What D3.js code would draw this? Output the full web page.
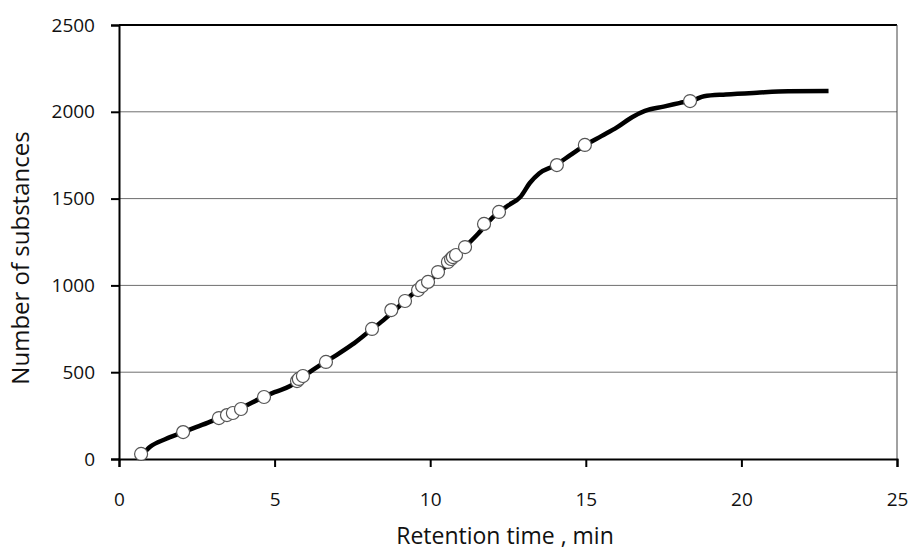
<!DOCTYPE html>
<html>
<head>
<meta charset="utf-8">
<script src="https://cdn.jsdelivr.net/npm/d3@7"></script>
<style>
  body { margin: 0; background: #fff; }
  text { font-family: "Open Sans", "Noto Sans", sans-serif; fill: #111; }
</style>
</head>
<body>
<div id="chart"></div>
<script>
// cumulative curve
var curveX = [0.75, 1.0, 1.5, 2.0, 2.5, 3.0, 3.5, 4.0, 4.5, 5.0, 5.5, 6.0, 6.5, 7.0, 7.5, 8.0, 8.5, 9.0, 9.5, 10.0,
  10.5, 11.0, 11.5, 12.0, 12.5, 12.9, 13.2, 13.5, 14.0, 14.5, 15.0, 15.5, 16.0, 16.5, 16.9, 17.5, 18.0, 18.5, 18.8,
  19.5, 20.5, 21.5, 22.8];
var curveY = [25, 70, 115, 150, 185, 220, 262, 300, 345, 385, 420, 485, 545, 600, 660, 730, 800, 880, 960, 1030,
  1110, 1200, 1290, 1390, 1460, 1510, 1590, 1645, 1690, 1750, 1810, 1860, 1910, 1970, 2005, 2030, 2050, 2070, 2090,
  2100, 2110, 2118, 2120];

// marked substances
var markX = [0.71, 2.06, 3.21, 3.47, 3.66, 3.92, 4.66, 5.72, 5.78, 5.91, 6.65, 8.13, 8.75, 9.19, 9.61, 9.74, 9.93,
  10.25, 10.57, 10.67, 10.73, 10.83, 11.12, 11.73, 12.21, 14.07, 14.97, 18.35];
var markY = [29, 155, 236, 253, 265, 288, 357, 449, 461, 478, 559, 749, 858, 910, 973, 996, 1020,
  1077, 1135, 1152, 1163, 1175, 1221, 1354, 1423, 1693, 1809, 2062];

var xTicks = [0, 5, 10, 15, 20, 25];
var yTicks = [0, 500, 1000, 1500, 2000, 2500];

var svgWidth = 910;
var svgHeight = 552;
var margin = { top: 25, right: 13, bottom: 93, left: 119 };
var chartWidth = svgWidth - margin.left - margin.right;
var chartHeight = svgHeight - margin.top - margin.bottom;

var x = d3.scaleLinear().domain([0, 25]).range([0, chartWidth]);
var y = d3.scaleLinear().domain([0, 2500]).range([chartHeight, 0]);

var svg = d3.select("#chart").append("svg")
  .attr("width", svgWidth)
  .attr("height", svgHeight);

var chartGroup = svg.append("g")
  .attr("transform", `translate(${margin.left}, ${margin.top})`);

// gridlines
chartGroup.selectAll(".grid")
  .data(yTicks.slice(1, -1))
  .enter().append("line")
  .attr("x1", 0).attr("x2", chartWidth)
  .attr("y1", d => y(d)).attr("y2", d => y(d))
  .attr("stroke", "#6e6e6e").attr("stroke-width", 1);

// frame top and right
chartGroup.append("line")
  .attr("x1", 0).attr("x2", chartWidth).attr("y1", 0).attr("y2", 0)
  .attr("stroke", "#000").attr("stroke-width", 2);
chartGroup.append("line")
  .attr("x1", chartWidth).attr("x2", chartWidth).attr("y1", 0).attr("y2", chartHeight)
  .attr("stroke", "#444").attr("stroke-width", 1);

// X axis
var xAxis = chartGroup.append("g")
  .attr("transform", "translate(0," + chartHeight + ")")
  .call(d3.axisBottom(x).tickValues(xTicks).tickFormat(d3.format("d")).tickSize(8).tickPadding(26));
xAxis.select(".domain").attr("stroke", "#000").attr("stroke-width", 2);
xAxis.selectAll(".tick line").attr("stroke", "#000").attr("stroke-width", 2);
xAxis.selectAll("text").attr("font-size", "19px").attr("fill", "#111");

// Y axis
var yAxis = chartGroup.append("g")
  .call(d3.axisLeft(y).tickValues(yTicks).tickFormat(d3.format("d")).tickSize(8).tickPadding(16));
yAxis.select(".domain").attr("stroke", "#000").attr("stroke-width", 2);
yAxis.selectAll(".tick line").attr("stroke", "#000").attr("stroke-width", 2);
yAxis.selectAll("text").attr("font-size", "19px").attr("fill", "#111");

// axis titles
svg.append("text")
  .attr("x", 505).attr("y", 544)
  .attr("text-anchor", "middle")
  .attr("font-size", "23px")
  .text("Retention time , min");

svg.append("text")
  .attr("transform", "translate(29,258) rotate(-90)")
  .attr("text-anchor", "middle")
  .attr("font-size", "24px")
  .text("Number of substances");

// curve
var curve = curveX.map((d, i) => ({ t: d, n: curveY[i] }));
var valueline = d3.line()
  .x(d => x(d.t))
  .y(d => y(d.n))
  .curve(d3.curveMonotoneX);

chartGroup.append("path")
  .datum(curve)
  .attr("fill", "none")
  .attr("stroke", "#000")
  .attr("stroke-width", 4.5)
  .attr("stroke-linejoin", "round")
  .attr("d", valueline);

// markers
var marks = markX.map((d, i) => ({ t: d, n: markY[i] }));
chartGroup.selectAll(".dot")
  .data(marks)
  .enter().append("circle")
  .attr("cx", d => x(d.t))
  .attr("cy", d => y(d.n))
  .attr("r", 6.5)
  .attr("fill", "#fff")
  .attr("stroke", "#555")
  .attr("stroke-width", 1.2);
</script>
</body>
</html>
